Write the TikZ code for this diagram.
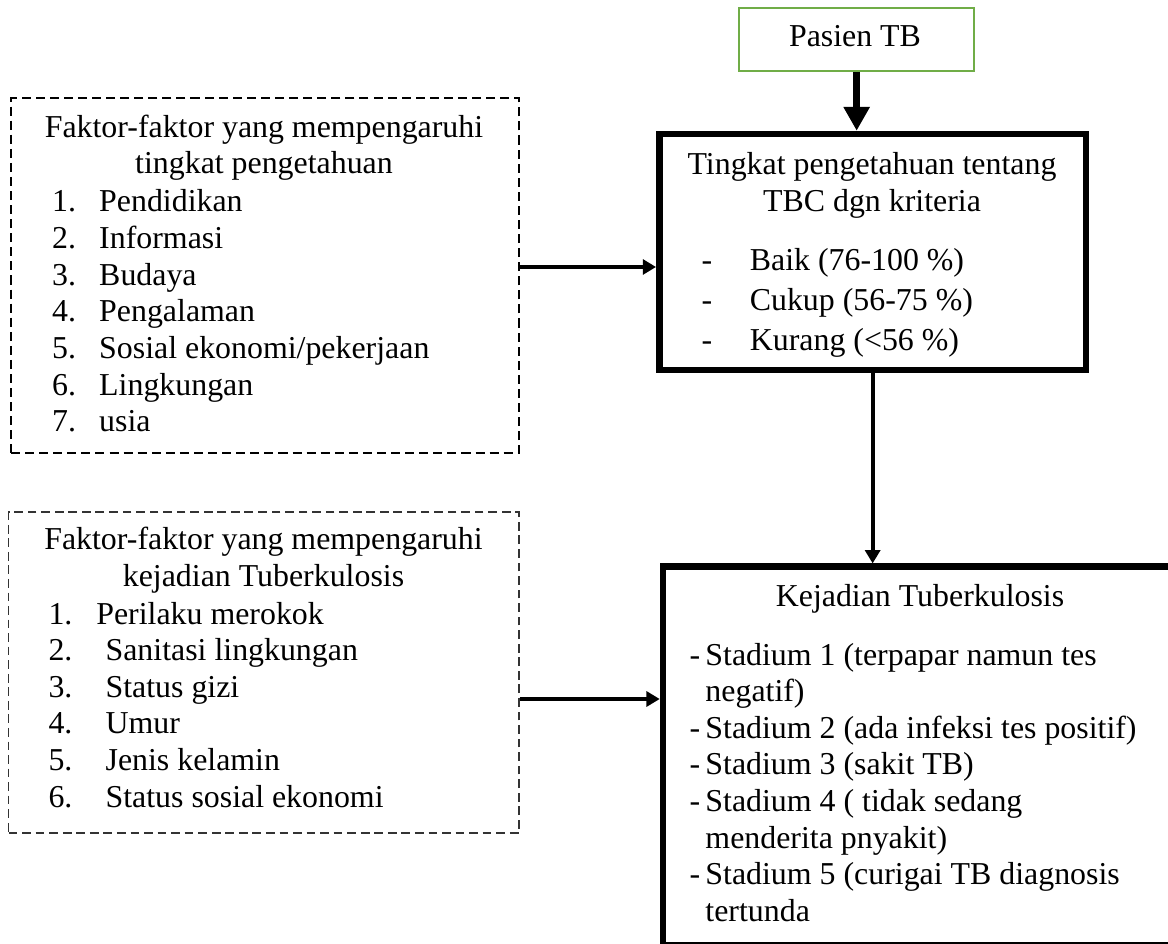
\documentclass[tikz,border=0pt]{standalone}
\usepackage{fontspec}
\setmainfont{Liberation Serif}
\usetikzlibrary{arrows.meta,fit}
\definecolor{hijau}{RGB}{112,173,71}
\tikzset{
	teks/.style={inner sep=0pt, font=\fontsize{12}{13.8}\selectfont},
	kotakhijau/.style={draw=hijau, line width=0.75pt, inner sep=0pt},
	kotaktebal/.style={draw, line width=2.45pt, inner sep=0pt},
	kotakputus/.style={draw, line width=0.75pt, dash pattern=on 3.4pt off 1.9pt, inner sep=0pt},
	kotakputustipis/.style={draw=black!80, line width=0.4pt, dash pattern=on 3.3pt off 1.8pt, inner sep=0pt},
	panah/.style={line width=1.5pt, -{Triangle[width=5.6pt,length=5pt]}},
	panahtebal/.style={line width=2.8pt, -{Triangle[width=9.4pt,length=9pt]}}
}
\begin{document}
\begin{tikzpicture}[x=0.3765pt, y=-0.3765pt]
	\useasboundingbox (0,0) rectangle (1168,944);
	\clip (0,0) rectangle (1168,944);
	
	\node [kotakhijau, fit={(739,8.3) (974.3,70.7)}] (pasien) {};
	\node [kotaktebal, fit={(659.3,134) (1086,370)}] (tingkat) {};
	\node [kotakputus, fit={(11,98) (519,453)}] (faktorsatu) {};
	\node [kotakputustipis, fit={(8.6,512) (519,833)}] (faktordua) {};
	\node [kotaktebal, fit={(663,566.7) (1177,945)}] (kejadian) {};
	
	\node [teks, anchor=base] (pasientxt) at (855,47) {Pasien TB};
	
	\node [teks, anchor=base] (tingkatjudul) at (872,175) {\begin{tabular}[t]{@{}c@{}}Tingkat pengetahuan tentang\\TBC dgn kriteria\end{tabular}};
	\node [teks, anchor=base west] (tingkatisi) at (701,270.7) {\begin{tabular}[t]{@{}p{18.2pt}@{}l@{}}
		-&Baik (76-100 \%)\\[1.2pt]
		-&Cukup (56-75 \%)\\[1.2pt]
		-&Kurang (<56 \%)
	\end{tabular}};
	
	\node [teks, anchor=base] (faktorsatujudul) at (264,138) {\begin{tabular}[t]{@{}c@{}}Faktor-faktor yang mempengaruhi\\[-0.6pt]tingkat pengetahuan\end{tabular}};
	\node [teks, anchor=base west] (faktorsatuisi) at (51.7,212) {\begin{tabular}[t]{@{}p{17.7pt}@{}l@{}}
		1.&Pendidikan\\
		2.&Informasi\\
		3.&Budaya\\
		4.&Pengalaman\\
		5.&Sosial ekonomi/pekerjaan\\
		6.&Lingkungan\\
		7.&usia
	\end{tabular}};
	
	\node [teks, anchor=base] (faktorduajudul) at (263.5,550) {\begin{tabular}[t]{@{}c@{}}Faktor-faktor yang mempengaruhi\\kejadian Tuberkulosis\end{tabular}};
	\node [teks, anchor=base west] (faktorduaisi) at (48,624) {\begin{tabular}[t]{@{}p{21.5pt}@{}l@{}}
		1.&\hspace{-3.5pt}Perilaku merokok\\
		2.&Sanitasi lingkungan\\
		3.&Status gizi\\
		4.&Umur\\
		5.&Jenis kelamin\\
		6.&Status sosial ekonomi
	\end{tabular}};
	
	\node [teks, anchor=base] (kejadianjudul) at (920,606.7) {Kejadian Tuberkulosis};
	\node [teks, anchor=base west] (kejadianisi) at (689,665) {\begin{tabular}[t]{@{}p{6pt}@{}l@{}}
		-&Stadium 1 (terpapar namun tes\\
		&negatif)\\
		-&Stadium 2 (ada infeksi tes positif)\\
		-&Stadium 3 (sakit TB)\\
		-&Stadium 4 ( tidak sedang\\
		&menderita pnyakit)\\
		-&Stadium 5 (curigai TB diagnosis\\
		&tertunda
	\end{tabular}};
	
	\draw [panahtebal] (pasien.south) -- (pasien.south |- tingkat.north);
	\draw [panah] (faktorsatu.east |- 0,267) -- (tingkat.west |- 0,267);
	\draw [panah] (tingkat.south) -- (tingkat.south |- kejadian.north);
	\draw [panah] (faktordua.east |- 0,699) -- (kejadian.west |- 0,699);
\end{tikzpicture}
\end{document}
